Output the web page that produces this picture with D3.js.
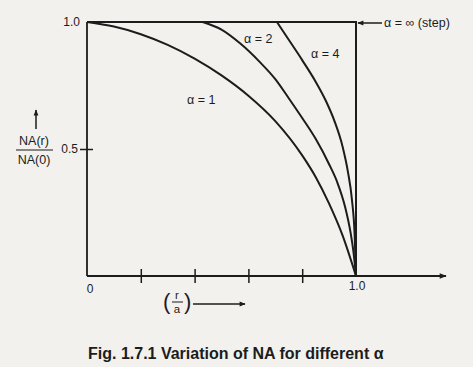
<!DOCTYPE html>
<html><head><meta charset="utf-8">
<script src="https://cdn.jsdelivr.net/npm/d3@7"></script>
<style>
html,body{margin:0;padding:0;background:#f3f1ed;}
svg{display:block;}
text{font-family:"Liberation Sans",Arial,sans-serif;fill:#1c1c1c;}
</style></head><body>
<svg id="c" width="473" height="367"></svg>
<script>
// r/a values and NA(r)/NA(0) values
const alpha1X = [0, 0.10, 0.20, 0.30, 0.40, 0.50, 0.60, 0.70, 0.80, 0.85, 0.90, 0.95, 1.0];
const alpha1Y = [1, 0.982, 0.952, 0.910, 0.856, 0.790, 0.710, 0.610, 0.475, 0.390, 0.285, 0.160, 0];
const alpha2X = [0.43, 0.50, 0.57, 0.64, 0.70, 0.75, 0.80, 0.85, 0.90, 0.93, 0.96, 0.98, 0.99, 1.0];
const alpha2Y = [1.0, 0.97, 0.915, 0.845, 0.775, 0.70, 0.622, 0.54, 0.44, 0.37, 0.27, 0.17, 0.10, 0];
const alpha4X = [0.706, 0.75, 0.80, 0.85, 0.89, 0.92, 0.95, 0.97, 0.985, 0.995, 1.0];
const alpha4Y = [1.0, 0.93, 0.85, 0.765, 0.685, 0.61, 0.51, 0.41, 0.30, 0.16, 0];
const stepX = [0, 1, 1];
const stepY = [1, 1, 0];
const xTicks = [0.2, 0.4, 0.6, 0.8];
const yTicks = [0.5];
const curveLabels = ["\u03b1 = 1", "\u03b1 = 2", "\u03b1 = 4", "\u03b1 = \u221e (step)"];

const svg = d3.select("#c");
const ink = "#1c1c1c";
const x = d3.scaleLinear().domain([0, 1]).range([87, 356]);
const y = d3.scaleLinear().domain([0, 1]).range([276, 22]);

const defs = svg.append("defs");
defs.append("marker").attr("id","ah").attr("viewBox","0 0 10 10").attr("refX",9).attr("refY",5)
  .attr("markerWidth",10).attr("markerHeight",7).attr("markerUnits","userSpaceOnUse").attr("orient","auto")
  .append("path").attr("d","M0,1 L10,5 L0,9 Z").attr("fill",ink);
defs.append("marker").attr("id","ahs").attr("viewBox","0 0 10 10").attr("refX",9).attr("refY",5)
  .attr("markerWidth",8).attr("markerHeight",6).attr("markerUnits","userSpaceOnUse").attr("orient","auto")
  .append("path").attr("d","M0,1 L10,5 L0,9 Z").attr("fill",ink);

// x axis (extended with arrow)
const xAxis = d3.axisBottom(x).tickValues(xTicks).tickSize(7).tickFormat("");
const gx = svg.append("g").attr("transform",`translate(0,${y(0)})`).call(xAxis);
gx.select(".domain").remove();
gx.selectAll(".tick line").attr("y1",-7).attr("y2",7).attr("stroke",ink).attr("stroke-width",1.5);
svg.append("line").attr("x1",x(0)).attr("x2",446).attr("y1",y(0)).attr("y2",y(0))
  .attr("stroke",ink).attr("stroke-width",1.8).attr("marker-end","url(#ah)");

// y axis
const yAxis = d3.axisLeft(y).tickValues(yTicks).tickSize(7).tickFormat("");
const gy = svg.append("g").attr("transform",`translate(${x(0)},0)`).call(yAxis);
gy.select(".domain").remove();
gy.selectAll(".tick line").attr("x1",-7).attr("x2",6).attr("stroke",ink).attr("stroke-width",1.5);
svg.append("line").attr("x1",x(0)).attr("x2",x(0)).attr("y1",y(0)).attr("y2",y(1))
  .attr("stroke",ink).attr("stroke-width",1.8);

// tick labels
svg.append("text").attr("x",x(0)-7).attr("y",y(1)+4).attr("text-anchor","end").attr("font-size",12).text("1.0");
svg.append("text").attr("x",x(0)-9).attr("y",y(0.5)+4).attr("text-anchor","end").attr("font-size",12).text("0.5");
svg.append("text").attr("x",x(0)+3).attr("y",y(0)+17).attr("text-anchor","middle").attr("font-size",12).text("0");
svg.append("text").attr("x",x(1)+1).attr("y",y(0)+14).attr("text-anchor","middle").attr("font-size",12).text("1.0");

// curves
function draw(xs, ys, gen){
  svg.append("path").attr("d", gen(xs.map((v,i)=>[v, ys[i]])))
    .attr("fill","none").attr("stroke",ink).attr("stroke-width",2);
}
const smooth = d3.line().x(d=>x(d[0])).y(d=>y(d[1])).curve(d3.curveMonotoneX);
const lineLin = d3.line().x(d=>x(d[0])).y(d=>y(d[1]));
draw(alpha1X, alpha1Y, smooth);
draw(alpha2X, alpha2Y, smooth);
draw(alpha4X, alpha4Y, smooth);
draw(stepX, stepY, lineLin);

// curve labels
svg.append("text").attr("x",187).attr("y",104).attr("font-size",12.5).text(curveLabels[0]);
svg.append("text").attr("x",244).attr("y",43).attr("font-size",12.5).text(curveLabels[1]);
svg.append("text").attr("x",311).attr("y",58).attr("font-size",12.5).text(curveLabels[2]);
svg.append("line").attr("x1",382).attr("x2",358).attr("y1",23).attr("y2",23)
  .attr("stroke",ink).attr("stroke-width",1.5).attr("marker-end","url(#ahs)");
svg.append("text").attr("x",384).attr("y",27).attr("font-size",12.5).text(curveLabels[3]);

// y label
svg.append("line").attr("x1",36).attr("x2",36).attr("y1",129).attr("y2",110)
  .attr("stroke",ink).attr("stroke-width",1.5).attr("marker-end","url(#ahs)");
svg.append("text").attr("x",34).attr("y",145).attr("text-anchor","middle").attr("font-size",12.5).text("NA(r)");
svg.append("line").attr("x1",16).attr("x2",53).attr("y1",150).attr("y2",150).attr("stroke",ink).attr("stroke-width",1.2);
svg.append("text").attr("x",34).attr("y",164).attr("text-anchor","middle").attr("font-size",12.5).text("NA(0)");

// x label (r/a) ->
const xl = svg.append("g");
xl.append("text").attr("x",163).attr("y",309).attr("font-size",22).attr("font-weight","300").text("(");
xl.append("text").attr("x",177).attr("y",299).attr("text-anchor","middle").attr("font-size",11.5).text("r");
xl.append("line").attr("x1",172).attr("x2",183).attr("y1",302).attr("y2",302).attr("stroke",ink).attr("stroke-width",1);
xl.append("text").attr("x",177).attr("y",313).attr("text-anchor","middle").attr("font-size",11.5).text("a");
xl.append("text").attr("x",184).attr("y",309).attr("font-size",22).attr("font-weight","300").text(")");
xl.append("line").attr("x1",193).attr("x2",245).attr("y1",304).attr("y2",304)
  .attr("stroke",ink).attr("stroke-width",1.5).attr("marker-end","url(#ahs)");

// caption
svg.append("text").attr("x",88).attr("y",359).attr("font-size",16).attr("font-weight","bold")
  .text("Fig. 1.7.1 Variation of NA for different \u03b1");
</script>
</body></html>
